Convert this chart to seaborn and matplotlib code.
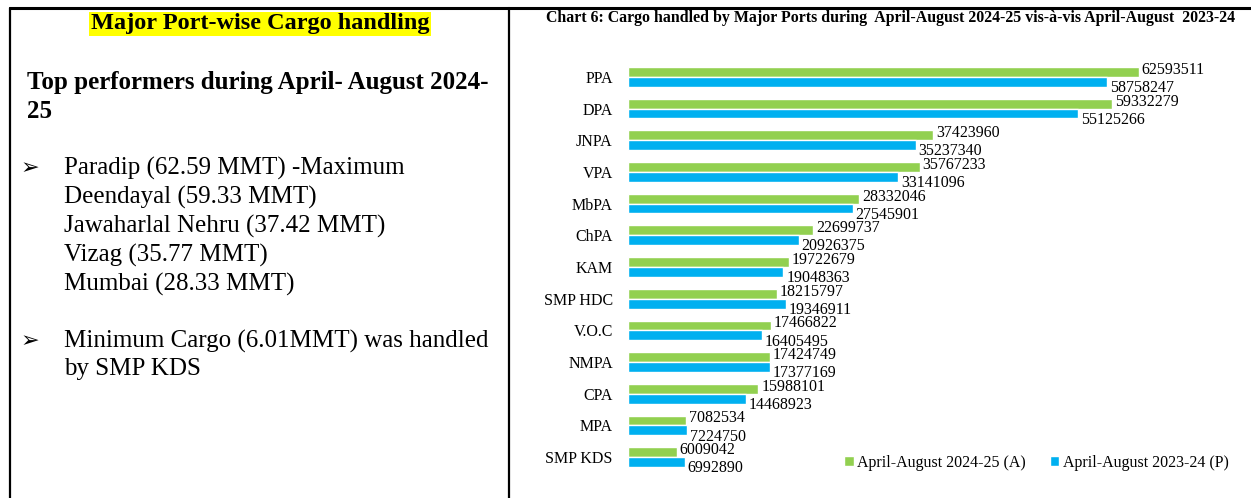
import numpy as np
import pandas as pd
import seaborn as sns
import matplotlib.pyplot as plt
from matplotlib.lines import Line2D

ports = ['PPA', 'DPA', 'JNPA', 'VPA', 'MbPA', 'ChPA', 'KAM', 'SMP HDC',
         'V.O.C', 'NMPA', 'CPA', 'MPA', 'SMP KDS']
cargo_2024_25 = [62593511, 59332279, 37423960, 35767233, 28332046, 22699737,
                 19722679, 18215797, 17466822, 17424749, 15988101, 7082534, 6009042]
cargo_2023_24 = [58758247, 55125266, 35237340, 33141096, 27545901, 20926375,
                 19048363, 19346911, 16405495, 17377169, 14468923, 7224750, 6992890]
series = ['April-August 2024-25 (A)', 'April-August 2023-24 (P)']
colors = ['#92D050', '#00B0F0']

top_lines = ['Paradip (62.59 MMT) -Maximum', 'Deendayal (59.33 MMT)',
             'Jawaharlal Nehru (37.42 MMT)', 'Vizag (35.77 MMT)', 'Mumbai (28.33 MMT)']
min_lines = ['Minimum Cargo (6.01MMT) was handled', 'by SMP KDS']

df = pd.DataFrame({
    'port': ports * 2,
    'cargo': cargo_2024_25 + cargo_2023_24,
    'series': [series[0]] * len(ports) + [series[1]] * len(ports),
})

sns.set_style('white')
plt.rcParams['font.family'] = ['Liberation Serif', 'DejaVu Sans']
plt.rcParams['text.color'] = 'black'
plt.rcParams['ytick.color'] = 'black'

W, H = 1251, 498
fig = plt.figure(figsize=(W / 100, H / 100), dpi=100)

# frame lines of the table
fig.add_artist(Line2D([10 / W, 1], [1 - 8 / H, 1 - 8 / H], color='black', lw=2.2))
fig.add_artist(Line2D([10 / W, 10 / W], [0, 1 - 8 / H], color='black', lw=1.6))
fig.add_artist(Line2D([509 / W, 509 / W], [0, 1 - 8 / H], color='black', lw=1.6))

# left panel text
fig.text(260 / W, 1 - 24 / H, 'Major Port-wise Cargo handling', ha='center', va='center',
         fontsize=17.5, weight='bold',
         bbox=dict(facecolor='#FFFF00', edgecolor='none', pad=1))
fig.text(27 / W, 1 - 83 / H, 'Top performers during April- August 2024-', ha='left',
         va='center', fontsize=18, weight='bold')
fig.text(27 / W, 1 - 111 / H, '25', ha='left', va='center', fontsize=18, weight='bold')

bullet_font = ['DejaVu Sans']
fig.text(21 / W, 1 - 168 / H, '\u27a2', ha='left', va='center', fontsize=16, family=bullet_font)
for i, line in enumerate(top_lines):
    fig.text(64 / W, 1 - (168 + 29 * i) / H, line, ha='left', va='center', fontsize=18)
fig.text(21 / W, 1 - 341 / H, '\u27a2', ha='left', va='center', fontsize=16, family=bullet_font)
fig.text(64 / W, 1 - 341 / H, min_lines[0], ha='left', va='center', fontsize=18)
fig.text(64 / W, 1 - 369 / H, min_lines[1], ha='left', va='center', fontsize=18)

# chart
fig.text(890 / W, 1 - 18 / H,
         'Chart 6: Cargo handled by Major Ports during  April-August 2024-25 vis-\u00e0-vis April-August  2023-24',
         ha='center', va='center', fontsize=11.4, weight='bold')

ax = fig.add_axes([628 / W, 1 - 473 / H, (1240 - 628) / W, (473 - 61) / H])
sns.barplot(data=df, y='port', x='cargo', hue='series', palette=colors, orient='h',
            width=0.62, saturation=1, ax=ax)

# green labels sit a little above their bar, blue ones below
for container, dy in zip(ax.containers, [1.5, -4.5]):
    for bar, val in zip(container, container.datavalues):
        ax.annotate(f'{int(val)}', xy=(bar.get_width(), bar.get_y() + bar.get_height() / 2),
                    xytext=(2, dy), textcoords='offset points', va='center', ha='left',
                    fontsize=11.5)

ax.set_xlim(0, 75e6)
ax.set_ylim(len(ports) - 0.5, -0.5)
ax.xaxis.set_visible(False)
ax.set_ylabel('')
ax.set_yticks(np.arange(-0.5, len(ports), 1), minor=True)
ax.tick_params(axis='y', which='major', length=0, pad=11, labelsize=11.5)
ax.tick_params(axis='y', which='minor', length=4, width=0.8, color='#b0b0b0')
for s in ax.spines.values():
    s.set_visible(False)

sns.move_legend(ax, 'center left', bbox_to_anchor=(0.33, 0.025), ncol=2, frameon=False,
                title=None, fontsize=11.5, handlelength=0.6, handleheight=0.6,
                handletextpad=0.2, columnspacing=1.5)

fig.savefig('out.png', dpi=100)
